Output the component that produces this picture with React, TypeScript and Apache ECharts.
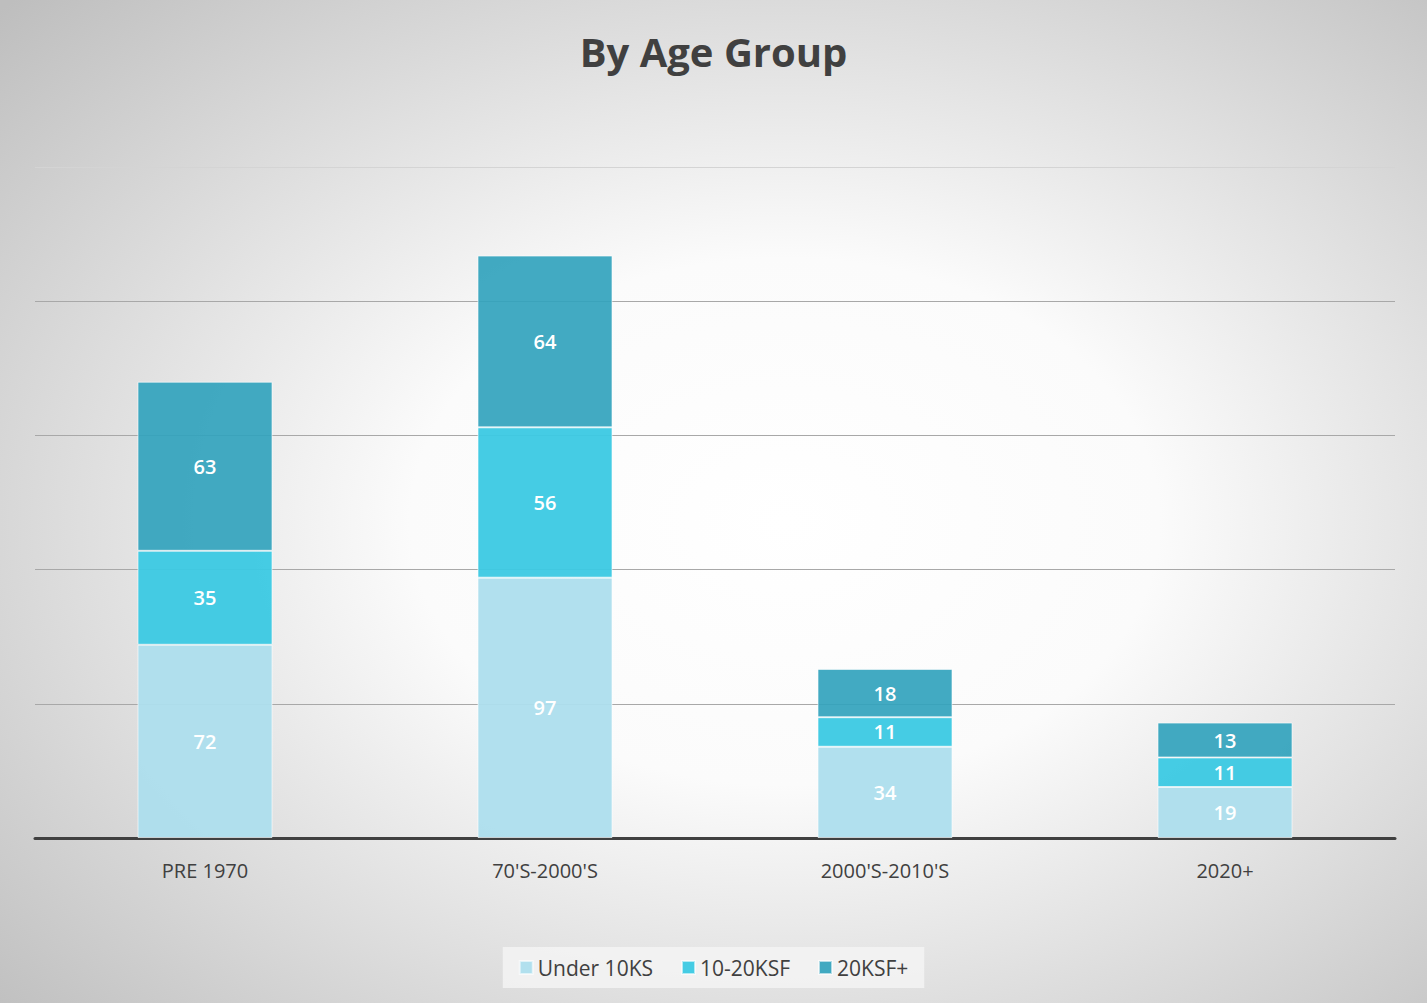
import React, { useEffect, useRef } from "react";
import * as echarts from "echarts";

const categories = ["PRE 1970", "70'S-2000'S", "2000'S-2010'S", "2020+"];
const seriesNames = ["Under 10KS", "10-20KSF", "20KSF+"];
const under10 = [72, 97, 34, 19];
const mid10to20 = [35, 56, 11, 11];
const over20 = [63, 64, 18, 13];
const colors = ["rgba(173,222,237,0.95)", "rgba(59,201,227,0.95)", "rgba(50,163,189,0.92)"];

const FONT = "'Open Sans', 'Noto Sans', sans-serif";

export default function App() {
  const ref = useRef<HTMLDivElement>(null);
  useEffect(() => {
    document.body.style.margin = "0";
    const chart = echarts.init(ref.current!, undefined, { renderer: "svg" });
    const values = [under10, mid10to20, over20];
    chart.setOption({
      animation: false,
      backgroundColor: new echarts.graphic.RadialGradient(0.55, 0.52, 0.75, [
        { offset: 0, color: "#ffffff" },
        { offset: 0.35, color: "#fbfbfb" },
        { offset: 1, color: "#bebebe" },
      ]),
      title: {
        text: "By Age Group",
        left: "center",
        top: 26,
        textStyle: { fontFamily: FONT, fontSize: 40, fontWeight: "bold", color: "#404040" },
      },
      legend: {
        bottom: 15,
        left: "center",
        itemWidth: 13,
        itemHeight: 13,
        itemGap: 28,
        padding: [10, 16],
        backgroundColor: "rgba(245,245,245,0.8)",
        icon: "rect",
        textStyle: { fontFamily: FONT, fontSize: 21, color: "#404040" },
        data: seriesNames,
      },
      grid: { left: 35, right: 32, top: 167, bottom: 165 },
      xAxis: {
        type: "category",
        data: categories,
        axisTick: { show: false },
        axisLine: { lineStyle: { color: "#404040", width: 3 } },
        axisLabel: { fontFamily: FONT, fontSize: 20, color: "#404040", margin: 22 },
      },
      yAxis: {
        type: "value",
        min: 0,
        max: 250,
        interval: 50,
        axisLabel: { show: false },
        axisLine: { show: false },
        axisTick: { show: false },
        splitLine: {
          lineStyle: { color: ["#a8a8a8", "#a8a8a8", "#a8a8a8", "#a8a8a8", "#a8a8a8", "#d4d4d4"], width: 1 },
        },
      },
      series: seriesNames.map((name, i) => ({
        name,
        type: "bar",
        stack: "total",
        barWidth: 135,
        data: values[i],
        itemStyle: { color: colors[i], borderColor: "rgba(255,255,255,0.6)", borderWidth: 1 },
        label: {
          show: true,
          position: "inside",
          color: "#ffffff",
          fontFamily: FONT,
          fontSize: 20,
          fontWeight: 600,
        },
      })),
    });
    return () => chart.dispose();
  }, []);
  return <div ref={ref} style={{ width: 1427, height: 1003 }} />;
}
